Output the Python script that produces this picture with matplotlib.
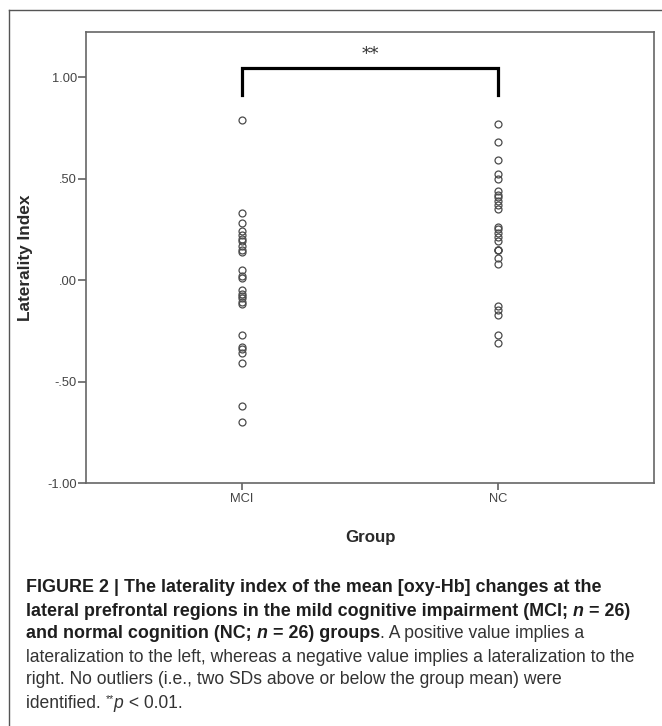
import matplotlib
matplotlib.use("Agg")
import matplotlib.pyplot as plt
from matplotlib.lines import Line2D

# --- Data ---
groups = ["MCI", "NC"]
mci_values = [0.79, 0.33, 0.28, 0.24, 0.22, 0.20, 0.19, 0.17, 0.15, 0.14,
              0.05, 0.02, 0.01, -0.05, -0.07, -0.08, -0.09, -0.11, -0.12,
              -0.27, -0.33, -0.34, -0.36, -0.41, -0.62, -0.70]
nc_values = [0.77, 0.68, 0.59, 0.52, 0.50, 0.44, 0.42, 0.41, 0.39, 0.37,
             0.35, 0.26, 0.25, 0.23, 0.21, 0.19, 0.15, 0.15, 0.15, 0.11,
             0.08, -0.13, -0.15, -0.17, -0.27, -0.31]
y_ticks = [1.0, 0.5, 0.0, -0.5, -1.0]
y_tick_labels = ["1.00", ".50", ".00", "-.50", "-1.00"]

W, H = 662, 726
fig = plt.figure(figsize=(W / 100, H / 100), dpi=100)
fig.patch.set_facecolor("white")

# axes box in pixels: left 86, right 654, top 32, bottom 483
ax = fig.add_axes([86 / W, 1 - 483 / H, (654 - 86) / W, (483 - 32) / H])
font = "Liberation Sans"

for i, vals in enumerate([mci_values, nc_values]):
    ax.plot([i + 1] * len(vals), vals, linestyle="none", marker="o",
            markersize=5, markerfacecolor="none", markeredgecolor="#4a4a4a",
            markeredgewidth=0.9)

ax.set_xlim(0.392, 2.608)
ax.set_ylim(-1.0, 1.222)
ax.set_xticks([1, 2])
ax.set_xticklabels(groups, fontsize=9.3, color="#444444", family=font)
ax.set_yticks(y_ticks)
ax.set_yticklabels(y_tick_labels, fontsize=9.3, color="#444444", family=font)
ax.tick_params(axis="y", length=6, width=1.1, color="#555555", pad=0.5)
ax.tick_params(axis="x", length=5, width=1.1, color="#555555", pad=2)
for s in ax.spines.values():
    s.set_color("#666666")
    s.set_linewidth(1.2)

ax.set_ylabel("Laterality Index", fontsize=12.4, fontweight="bold",
              color="#2a2a2a", family=font)
ax.yaxis.set_label_coords(-0.093, 0.5)
ax.set_xlabel("Group", fontsize=12.2, fontweight="bold", color="#2a2a2a",
              family=font)
ax.xaxis.set_label_coords(0.5, -0.105)

# significance bracket
ax.plot([1, 1, 2, 2], [0.913, 1.047, 1.047, 0.913], color="black",
        linewidth=2.3, solid_joinstyle="miter", clip_on=False)
ax.text(1.5, 1.11, "**", ha="center", va="center", fontsize=12.5,
        color="#333333", family="DejaVu Serif")

# outer frame (left and top edges visible)
fig.add_artist(Line2D([9 / W, 9 / W], [0, 1 - 10 / H], transform=fig.transFigure,
                      color="#555555", linewidth=1.0))
fig.add_artist(Line2D([9 / W, 1], [1 - 10 / H, 1 - 10 / H],
                      transform=fig.transFigure, color="#555555", linewidth=1.0))

# --- Caption ---
renderer = fig.canvas.get_renderer()


def text_width(s, size, weight="normal", style="normal"):
    t1 = fig.text(0, 0, s + "|", fontsize=size, fontweight=weight,
                  fontstyle=style, family=font)
    t2 = fig.text(0, 0, "|", fontsize=size, fontweight=weight,
                  fontstyle=style, family=font)
    w = t1.get_window_extent(renderer).width - t2.get_window_extent(renderer).width
    t1.remove()
    t2.remove()
    return w


# fit sizes to the widths seen in the reference
bold_size = 11 * 572 / text_width(
    "FIGURE 2 | The laterality index of the mean [oxy-Hb] changes at the", 11, "bold")
reg_size = 11 * 610 / text_width(
    "lateralization to the left, whereas a negative value implies a lateralization to the", 11)

styles = {
    "b": dict(weight="bold", style="normal", color="#1e1e1e", size=bold_size),
    "bi": dict(weight="bold", style="italic", color="#1e1e1e", size=bold_size),
    "r": dict(weight="normal", style="normal", color="#333333", size=reg_size),
    "i": dict(weight="normal", style="italic", color="#333333", size=reg_size),
    "sup": dict(weight="normal", style="normal", color="#333333", size=reg_size * 0.6),
}

caption_lines = [
    [("FIGURE 2 | The laterality index of the mean [oxy-Hb] changes at the", "b")],
    [("lateral prefrontal regions in the mild cognitive impairment (MCI; ", "b"),
     ("n", "bi"), (" = 26)", "b")],
    [("and normal cognition (NC; ", "b"), ("n", "bi"), (" = 26) groups", "b"),
     (". A positive value implies a", "r")],
    [("lateralization to the left, whereas a negative value implies a lateralization to the", "r")],
    [("right. No outliers (i.e., two SDs above or below the group mean) were", "r")],
    [("identified. ", "r"), ("**", "sup"), ("p", "i"), (" < 0.01.", "r")],
]
line_y = [588, 611, 634, 657, 680, 703]

for segs, yc in zip(caption_lines, line_y):
    x = 26
    for s, key in segs:
        st = styles[key]
        y = yc - 4 if key == "sup" else yc
        fig.text(x / W, 1 - y / H, s, fontsize=st["size"], fontweight=st["weight"],
                 fontstyle=st["style"], color=st["color"], family=font,
                 ha="left", va="center")
        x += text_width(s, st["size"], st["weight"], st["style"])

fig.savefig("out.png", dpi=100, facecolor="white")
